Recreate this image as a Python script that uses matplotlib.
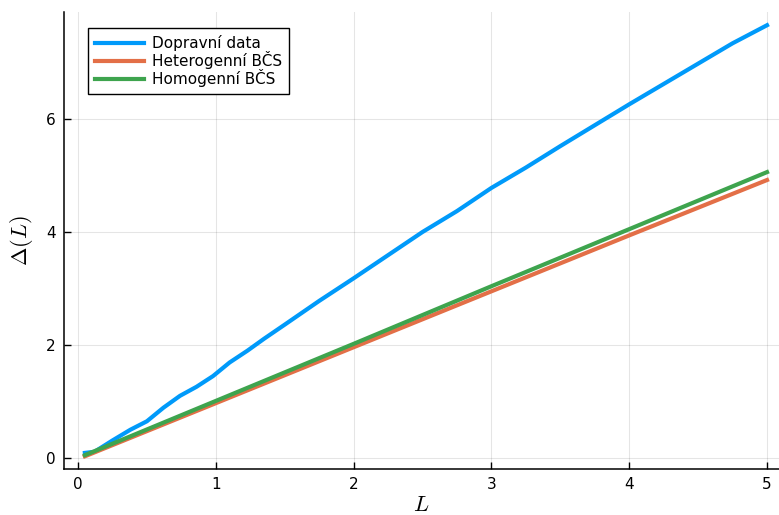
import matplotlib
matplotlib.use("Agg")
import matplotlib.pyplot as plt

# Measured traffic data
L_data = [0.05, 0.12, 0.25, 0.38, 0.5, 0.62, 0.74, 0.86, 0.98, 1.1, 1.23, 1.35, 1.5, 1.75,
          2.0, 2.25, 2.5, 2.75, 3.0, 3.25, 3.5, 3.75, 4.0, 4.25, 4.5, 4.75, 5.0]
delta_data = [0.09, 0.11, 0.31, 0.50, 0.65, 0.89, 1.10, 1.26, 1.45, 1.69, 1.90, 2.11, 2.36, 2.78,
              3.18, 3.59, 4.00, 4.37, 4.78, 5.14, 5.52, 5.89, 6.26, 6.62, 6.98, 7.34, 7.66]

# Model curves
L_model = [0.05, 1.0, 2.0, 3.0, 4.0, 5.0]
delta_het = [0.03, 0.97, 1.96, 2.95, 3.94, 4.92]
delta_hom = [0.05, 1.01, 2.02, 3.04, 4.05, 5.06]

labels = ["Dopravní data", "Heterogenní BČS", "Homogenní BČS"]
colors = ["#009AFA", "#E36F47", "#3EA44E"]

plt.rcParams["mathtext.fontset"] = "cm"

fig = plt.figure(figsize=(7.79, 5.15), dpi=100)
ax = fig.add_axes([64 / 779, 46 / 515, 715 / 779, 457 / 515])

ax.plot(L_data, delta_data, color=colors[0], lw=3, label=labels[0])
ax.plot(L_model, delta_het, color=colors[1], lw=3, label=labels[1])
ax.plot(L_model, delta_hom, color=colors[2], lw=3, label=labels[2])

ax.set_xlim(-0.1016, 5.087)
ax.set_ylim(-0.195, 7.894)
ax.set_xticks([0, 1, 2, 3, 4, 5])
ax.set_yticks([0, 2, 4, 6])

ax.grid(True, color="black", alpha=0.1, lw=0.8)
ax.spines["top"].set_visible(False)
ax.spines["right"].set_visible(False)
for s in ("left", "bottom"):
    ax.spines[s].set_linewidth(1.1)
ax.tick_params(direction="in", length=5, width=1, labelsize=11, pad=6)

ax.set_xlabel(r"$L$", fontsize=16, labelpad=2)
ax.set_ylabel(r"$\Delta(L)$", fontsize=16, labelpad=8)

leg = ax.legend(loc="upper left", bbox_to_anchor=(0.034, 0.965), fontsize=11,
                frameon=True, fancybox=False, framealpha=1, edgecolor="black",
                handlelength=3.2, handletextpad=0.5, labelspacing=0.0,
                borderpad=0.45, borderaxespad=0)
leg.get_frame().set_linewidth(1)

fig.savefig("out.png", dpi=100)
